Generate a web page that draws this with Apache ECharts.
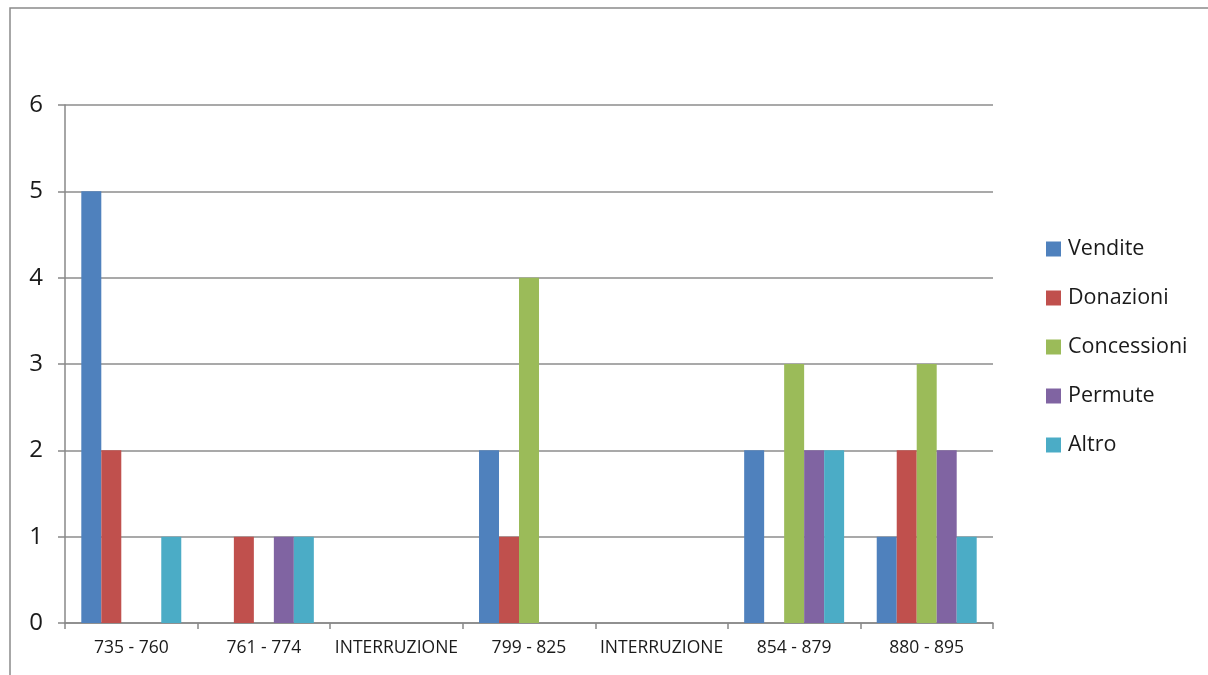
<!DOCTYPE html>
<html>
<head>
<meta charset="utf-8">
<script src="https://cdn.jsdelivr.net/npm/echarts@6/dist/echarts.min.js"></script>
<style>
html,body{margin:0;padding:0;background:#fff;}
#chart{width:1208px;height:675px;}
</style>
</head>
<body>
<div id="chart"></div>
<script>
const categories = ['735 - 760', '761 - 774', 'INTERRUZIONE', '799 - 825', 'INTERRUZIONE', '854 - 879', '880 - 895'];
const seriesNames = ['Vendite', 'Donazioni', 'Concessioni', 'Permute', 'Altro'];
const vendite     = [5, 0, 0, 2, 0, 2, 1];
const donazioni   = [2, 1, 0, 1, 0, 0, 2];
const concessioni = [0, 0, 0, 4, 0, 3, 3];
const permute     = [0, 1, 0, 0, 0, 2, 2];
const altro       = [1, 1, 0, 0, 0, 2, 1];
const yTicks = [0, 1, 2, 3, 4, 5, 6];

const colors = ['#4F81BD', '#C0504D', '#9BBB59', '#8064A2', '#4BACC6'];
const values = [vendite, donazioni, concessioni, permute, altro];
const FONT = '"Open Sans", "Noto Sans", sans-serif';

const chart = echarts.init(document.getElementById('chart'), null, {renderer: 'canvas'});
chart.setOption({
  animation: false,
  backgroundColor: '#ffffff',
  color: colors,
  graphic: [{
    type: 'rect',
    shape: {x: 10, y: 8, width: 1230, height: 700},
    style: {fill: 'none', stroke: '#8a8a8a', lineWidth: 1.5},
    silent: true
  }],
  grid: {left: 65, right: 215, top: 105, bottom: 52, containLabel: false},
  legend: {
    orient: 'vertical',
    left: 1041,
    top: 233,
    itemWidth: 15,
    itemHeight: 15,
    itemGap: 27,
    icon: 'rect',
    data: seriesNames,
    textStyle: {fontFamily: FONT, fontSize: 21.5, color: '#1a1a1a', padding: [0, 0, 0, 2]}
  },
  xAxis: {
    type: 'category',
    data: categories,
    axisLine: {show: true, lineStyle: {color: '#888', width: 1.5}},
    axisTick: {show: true, length: 6, lineStyle: {color: '#888', width: 1.5}},
    axisLabel: {fontFamily: FONT, fontSize: 17.5, color: '#1a1a1a', margin: 16, interval: 0},
    splitLine: {show: false}
  },
  yAxis: {
    type: 'value',
    min: yTicks[0],
    max: yTicks[yTicks.length - 1],
    interval: 1,
    axisLine: {show: true, lineStyle: {color: '#888', width: 1.5}},
    axisTick: {show: true, length: 7, lineStyle: {color: '#888', width: 1.5}},
    axisLabel: {fontFamily: FONT, fontSize: 24, color: '#1a1a1a', margin: 22},
    splitLine: {show: true, lineStyle: {color: '#8c8c8c', width: 1.5}}
  },
  series: seriesNames.map((name, i) => ({
    name: name,
    type: 'bar',
    data: values[i],
    barGap: 0,
    barCategoryGap: '24.6%',
    itemStyle: {color: colors[i]}
  }))
});
</script>
</body>
</html>
